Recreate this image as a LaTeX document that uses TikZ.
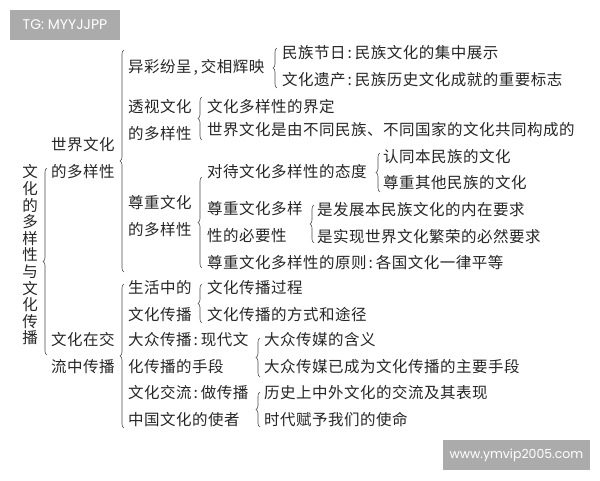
\documentclass[tikz,border=0pt]{standalone}
\usepackage{fontspec}
\newfontfamily\cjk[LetterSpace=3.2]{Noto Sans CJK SC}
\newfontfamily\wmfont{Poppins}
\usetikzlibrary{decorations.pathreplacing,positioning}
\newcommand{\cn}{\hspace{2pt}:\hspace{3pt}}
\newcommand{\cm}{\hspace{2pt},\hspace{3pt}}
\tikzset{
  txt/.style={anchor=west, inner sep=0pt, align=left, text=black!85,
    font=\cjk\fontsize{15.5pt}{27pt}\selectfont},
  brc/.style={decorate, decoration={brace, amplitude=4pt}, draw=black!70, line width=0.6pt},
  wm/.style={fill=black!33, text=white, inner sep=0pt, minimum height=30pt,
    font=\wmfont\fontsize{12.5pt}{14pt}\selectfont}
}

\begin{document}
\begin{tikzpicture}[x=1pt,y=-1pt]
\useasboundingbox[fill=white] (0,0) rectangle (600,480);

% watermarks
\node[wm, minimum width=110pt, font=\wmfont\fontsize{14pt}{16pt}\selectfont] (tg) at (65,25) {TG: MYYJJPP};
\node[wm, minimum width=147pt] (web) at (516.5,455) {www.ymvip2005.com};

% root
\node[txt, anchor=center, align=center, font=\cjk\fontsize{15.5pt}{16.6pt}\selectfont]
  (root) at (30,255) {文\\化\\的\\多\\样\\性\\与\\文\\化\\传\\播};

% first level
\node[txt] (wd) at (51,158) {世界文化\\的多样性};
\node[txt] (cc) at (51,353) {文化在交\\流中传播};

% world culture
\node[txt] (yc) at (128,67) {异彩纷呈\cm 交相辉映};
\node[txt] (ts) at (128,120) {透视文化\\的多样性};
\node[txt] (zz) at (128,216) {尊重文化\\的多样性};
\node[txt] (jr) at (282,53) {民族节日\cn 民族文化的集中展示};
\node[txt] (yc2) at (282,80) {文化遗产\cn 民族历史文化成就的重要标志};
\node[txt] (jd) at (207,107) {文化多样性的界定};
\node[txt] (gc) at (207,130) {世界文化是由不同民族、不同国家的文化共同构成的};
\node[txt] (td) at (207,172) {对待文化多样性的态度};
\node[txt] (by) at (207,222) {尊重文化多样\\性的必要性};
\node[txt] (yz) at (207,263) {尊重文化多样性的原则\cn 各国文化一律平等};
\node[txt] (rt) at (383,157) {认同本民族的文化};
\node[txt] (zq) at (383,183) {尊重其他民族的文化};
\node[txt] (fz) at (317,210) {是发展本民族文化的内在要求};
\node[txt] (sx) at (317,237) {是实现世界文化繁荣的必然要求};

% spreading of culture
\node[txt] (sh) at (128,301) {生活中的\\文化传播};
\node[txt] (dz) at (128,353) {大众传播\cn 现代文\\化传播的手段};
\node[txt] (jl) at (128,406) {文化交流\cn 做传播\\中国文化的使者};
\node[txt] (gcc) at (207,288) {文化传播过程};
\node[txt] (fs) at (207,315) {文化传播的方式和途径};
\node[txt] (hy) at (264,340) {大众传媒的含义};
\node[txt] (zy) at (264,367) {大众传媒已成为文化传播的主要手段};
\node[txt] (ls) at (264,393) {历史上中外文化的交流及其表现};
\node[txt] (sd) at (264,420) {时代赋予我们的使命};

% braces
\draw[brc] (47,355) -- (47,168);
\draw[brc] (124,272) -- (124,50);
\draw[brc] (124,428) -- (124,284);
\draw[brc] (277,88) -- (277,48);
\draw[brc] (202,140) -- (202,97);
\draw[brc] (202,268) -- (202,177);
\draw[brc] (380,192) -- (380,153);
\draw[brc] (314,243) -- (314,205);
\draw[brc] (202,323) -- (202,284);
\draw[brc] (260,377) -- (260,338);
\draw[brc] (260,427) -- (260,392);
\end{tikzpicture}
\end{document}
